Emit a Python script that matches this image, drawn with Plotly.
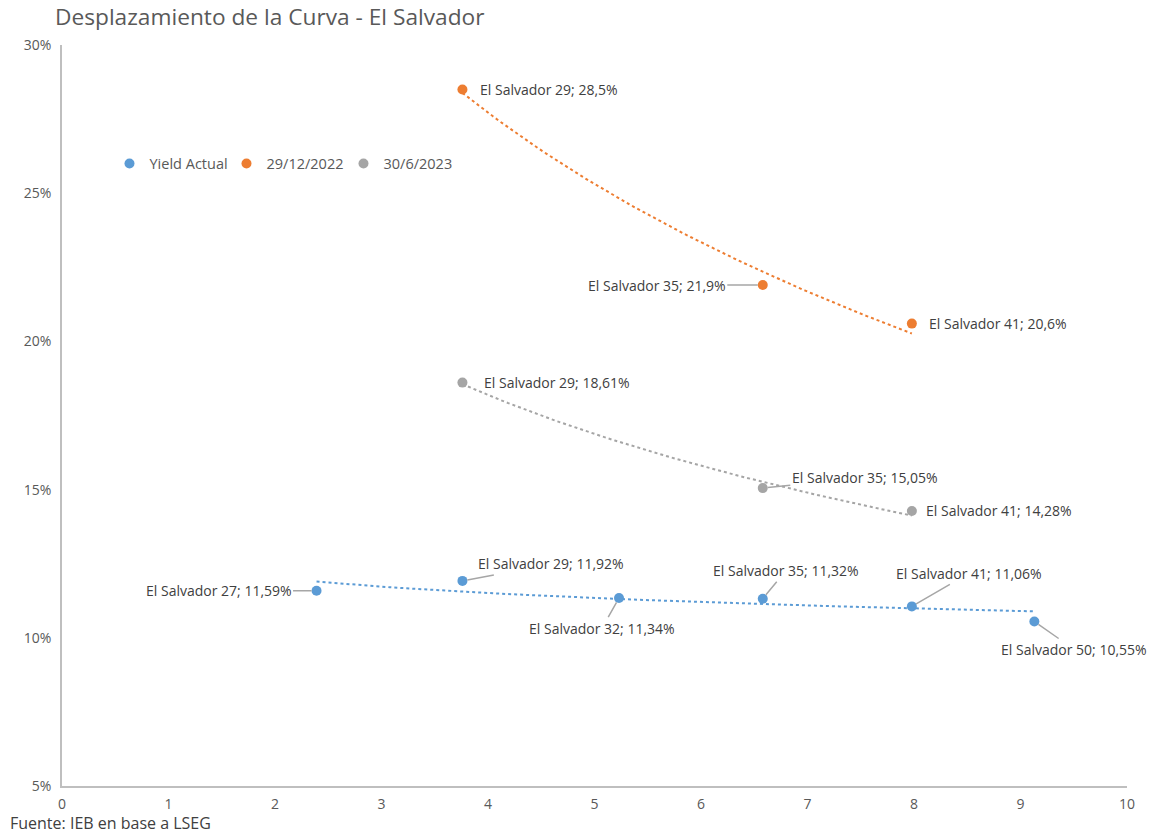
import numpy as np
import plotly.graph_objects as go

# Bond labels and x positions (years)
bonos_actual = ["El Salvador 27", "El Salvador 29", "El Salvador 32",
                "El Salvador 35", "El Salvador 41", "El Salvador 50"]
x_actual = [2.39, 3.76, 5.23, 6.58, 7.98, 9.13]
y_actual = [11.59, 11.92, 11.34, 11.32, 11.06, 10.55]

bonos_hist = ["El Salvador 29", "El Salvador 35", "El Salvador 41"]
x_hist = [3.76, 6.58, 7.98]
y_dic22 = [28.5, 21.9, 20.6]
y_jun23 = [18.61, 15.05, 14.28]

y_ticks = [5, 10, 15, 20, 25, 30]
x_ticks = list(range(0, 11))

AZUL = "#5B9BD5"
NARANJA = "#ED7D31"
GRIS = "#A5A5A5"
TEXTO = "#404040"
FUENTE = "Open Sans"


def tendencia_log(xs, ys, n=60):
    """Excel-style logarithmic trendline y = a + b ln(x)."""
    lx = np.log(np.array(xs))
    b, a = np.polyfit(lx, np.array(ys), 1)
    xx = np.linspace(min(xs), max(xs), n)
    return xx, a + b * np.log(xx)


fig = go.Figure()

series = [
    ("Yield Actual", x_actual, y_actual, AZUL, bonos_actual, [f"{v:.2f}" for v in y_actual]),
    ("29/12/2022", x_hist, y_dic22, NARANJA, bonos_hist, [f"{v:.1f}" for v in y_dic22]),
    ("30/6/2023", x_hist, y_jun23, GRIS, bonos_hist, [f"{v:.2f}" for v in y_jun23]),
]

for nombre, xs, ys, color, _, _ in series:
    xx, yy = tendencia_log(xs, ys)
    fig.add_trace(go.Scatter(x=xx, y=yy, mode="lines", showlegend=False,
                             line=dict(color=color, width=2, dash="dot"),
                             hoverinfo="skip"))

for nombre, xs, ys, color, _, _ in series:
    fig.add_trace(go.Scatter(x=xs, y=ys, mode="markers", name=nombre,
                             marker=dict(color=color, size=10)))

# label offsets (pixels) and whether a leader line is drawn
offsets = {
    "Yield Actual": [(-98, 0, True), (89, -17, True), (-17, 30, True),
                     (23, -28, True), (57, -33, True), (40, 28, True)],
    "29/12/2022": [(87, 0, False), (-106, 0, True), (86, 0, False)],
    "30/6/2023": [(95, 0, False), (102, -11, True), (87, 0, False)],
}

for nombre, xs, ys, color, bonos, vals in series:
    for (xv, yv, bono, val, (ax, ay, linea)) in zip(xs, ys, bonos, vals, offsets[nombre]):
        fig.add_annotation(
            x=xv, y=yv, xref="x", yref="y",
            text=f"{bono}; {val.replace('.', ',')}%",
            showarrow=True, arrowhead=0, arrowwidth=1.5,
            arrowcolor="#A6A6A6" if linea else "rgba(0,0,0,0)",
            standoff=5, ax=ax, ay=ay,
            font=dict(family=FUENTE, size=14, color=TEXTO),
        )

fig.add_annotation(
    text="Fuente: IEB en base a LSEG", xref="paper", yref="paper",
    x=-54 / 1065, y=-37 / 741, xanchor="left", yanchor="middle",
    showarrow=False, font=dict(family=FUENTE, size=16, color=TEXTO),
)

fig.update_layout(
    width=1158, height=835,
    margin=dict(l=62, r=31, t=45, b=49),
    paper_bgcolor="white", plot_bgcolor="white",
    title=dict(text="Desplazamiento de la Curva - El Salvador",
               x=55 / 1158, xanchor="left", xref="container",
               y=1 - 17 / 835, yanchor="middle", yref="container",
               font=dict(family=FUENTE, size=22.7, color="#595959")),
    font=dict(family=FUENTE, size=14, color="#595959"),
    legend=dict(orientation="h", x=0.0446, y=0.84, xanchor="left", yanchor="middle",
                bgcolor="rgba(0,0,0,0)", itemwidth=30,
                entrywidth=72, entrywidthmode="pixels",
                font=dict(family=FUENTE, size=14.5, color="#595959")),
    showlegend=True,
)

fig.update_xaxes(range=[0, 10], tickvals=x_ticks, showgrid=False, zeroline=False,
                 showline=True, linecolor="#BFBFBF", linewidth=1.5, ticks="",
                 ticklabelstandoff=4,
                 tickfont=dict(family=FUENTE, size=14, color="#595959"))
fig.update_yaxes(range=[5, 30], tickvals=y_ticks, ticktext=[f"{v}%" for v in y_ticks],
                 showgrid=False, zeroline=False, showline=True, linecolor="#BFBFBF",
                 linewidth=1.5, ticks="", ticklabelstandoff=6,
                 tickfont=dict(family=FUENTE, size=14, color="#595959"))

fig.write_html("out.html")
